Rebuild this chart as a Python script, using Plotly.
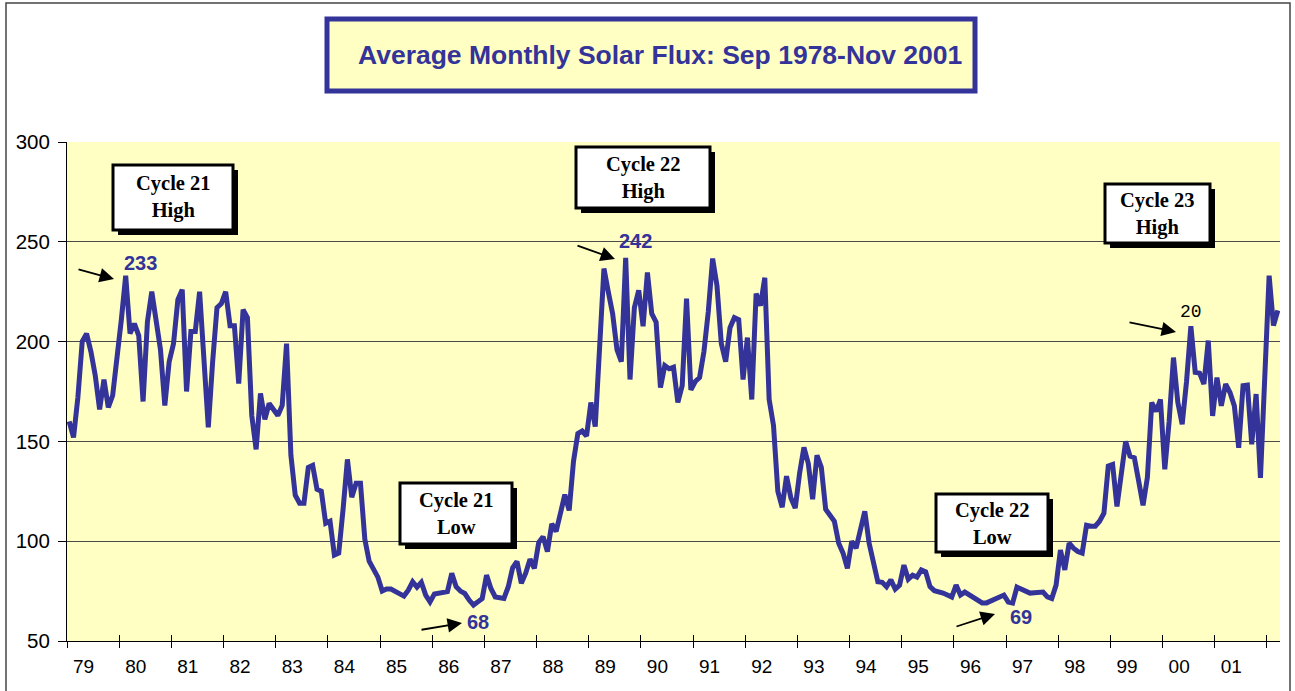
import plotly.graph_objects as go

# ---------------- data ----------------
start_month = "1978-09"          # first category (Sep 1978)
flux_1978 = [160, 152, 172, 200]
flux_1979 = [204, 195, 183, 166, 181, 167, 173, 190, 211, 233, 204, 209]
flux_1980 = [203, 170, 210, 225, 209, 196, 168, 190, 199, 221, 226, 175]
flux_1981 = [205, 205, 225, 191, 157, 190, 217, 219, 225, 208, 208, 179]
flux_1982 = [216, 212, 163, 146, 174, 161, 169, 166, 163, 168, 199, 143]
flux_1983 = [123, 119, 119, 137, 138, 126, 125, 109, 110, 93, 94, 116]
flux_1984 = [141, 122, 129, 129, 101, 90, 86, 82, 75, 76, 76, 75]
flux_1985 = [74, 72.5, 75.5, 79.7, 77, 79.4, 73, 69.6, 73.5, 73.8, 74, 74.7]
flux_1986 = [83.9, 77.2, 75, 73.8, 70.5, 68, 69.6, 71.3, 83, 76.3, 72.1, 71.5]
flux_1987 = [71.3, 77.2, 86.7, 89.8, 78.9, 84, 91, 86.4, 99.3, 102.3, 94.8, 108.7]
flux_1988 = [104.9, 114, 123.3, 115.4, 140, 153.9, 155.2, 152.7, 169.5, 157.4, 200, 236.6]
flux_1989 = [225, 214, 196, 190, 242, 181, 217, 225.7, 207.7, 234.6, 214, 209.7]
flux_1990 = [177, 188, 186.4, 187.2, 169.5, 178, 221.5, 175.8, 180, 182, 195, 215]
flux_1991 = [241.6, 228, 199, 190, 207, 212, 211, 181, 202, 171, 224, 218]
flux_1992 = [232, 171, 158, 125, 117, 132.6, 121.6, 116.6, 134, 147, 139, 121]
flux_1993 = [143, 137, 116, 113, 110, 99, 94, 86.4, 100, 96.5, 105, 115]
flux_1994 = [99, 89, 79.7, 79.4, 77.2, 80.6, 76, 78, 88, 81, 83, 82]
flux_1995 = [85.6, 84.7, 77.2, 75.2, 74.7, 74, 73, 72, 78, 73, 74.5, 73]
flux_1996 = [71.5, 70, 69.1, 69.1, 70, 71.5, 72, 73, 69.5, 69, 77, 76]
flux_1997 = [74.5, 74, 74.2, 74.5, 74.5, 72.1, 71.3, 78, 95.6, 85.6, 99, 96.5]
flux_1998 = [94.8, 94, 108, 107.5, 107.5, 110, 114, 137.6, 138.4, 117.4, 132.6, 150]
flux_1999 = [142.6, 141.8, 130, 118, 132, 169.5, 165, 171, 136, 160, 192, 169.5]
flux_2000 = [158.6, 180, 207.7, 184.6, 184.2, 178.7, 200.5, 162.8, 182, 167.8, 178.7, 174.5]
flux_2001 = [167.8, 146.8, 177.9, 178.2, 148.5, 173.7, 131.7, 180, 233, 208, 215.6]

year_labels = ["79", "80", "81", "82", "83", "84", "85", "86", "87", "88", "89",
               "90", "91", "92", "93", "94", "95", "96", "97", "98", "99", "00", "01"]
y_ticks = [50, 100, 150, 200, 250, 300]

title_text = "Average Monthly Solar Flux: Sep 1978-Nov 2001"
cycle_boxes = ["Cycle 21<br>High", "Cycle 22<br>High", "Cycle 21<br>Low",
               "Cycle 22<br>Low", "Cycle 23<br>High"]
value_labels = ["233", "242", "68", "69"]
truncated_label = "20"

# ---------------- build ----------------
flux = (flux_1978 + flux_1979 + flux_1980 + flux_1981 + flux_1982 + flux_1983 +
        flux_1984 + flux_1985 + flux_1986 + flux_1987 + flux_1988 + flux_1989 +
        flux_1990 + flux_1991 + flux_1992 + flux_1993 + flux_1994 + flux_1995 +
        flux_1996 + flux_1997 + flux_1998 + flux_1999 + flux_2000 + flux_2001)
n = len(flux)
idx = list(range(n))

W, H = 1295, 691
L, R, T, B = 67, 15, 142, 50
PW, PH = W - L - R, H - T - B


def px(x):
    return (x - L) / PW


def py(y):
    return (H - B - y) / PH


NAVY = "#333399"
BG = "#FFFFC4"

fig = go.Figure()
fig.add_trace(go.Scatter(
    x=idx, y=flux, mode="lines",
    line=dict(color=NAVY, width=5, shape="linear"),
    hoverinfo="y", showlegend=False,
))

boundaries = [-0.5 + 12 * i for i in range(24)]
label_pos = [3.3 + 12 * i for i in range(len(year_labels))]

axis_common = dict(range=[-0.5, n - 0.5], showgrid=False, zeroline=False, fixedrange=True)

fig.update_layout(
    width=W, height=H,
    margin=dict(l=L, r=R, t=T, b=B, pad=0),
    paper_bgcolor="white",
    plot_bgcolor=BG,
    font=dict(family="Liberation Sans, Arial, sans-serif", color="black"),
    xaxis=dict(**axis_common, tickmode="array", tickvals=boundaries,
               ticks="outside", ticklen=6, tickwidth=1, tickcolor="black",
               showticklabels=False, showline=True, linecolor="black", linewidth=1),
    xaxis2=dict(**axis_common, overlaying="x", anchor="y", side="bottom",
                tickmode="array", tickvals=label_pos, ticktext=year_labels,
                ticks="", showline=False, tickfont=dict(size=19, color="black"),
                ticklabelstandoff=12),
    xaxis3=dict(**axis_common, overlaying="x", anchor="y", side="bottom",
                tickmode="array", tickvals=boundaries, ticks="inside", ticklen=6,
                tickwidth=1, tickcolor="black", showticklabels=False, showline=False),
    yaxis=dict(range=[50, 300], tickmode="array", tickvals=y_ticks,
               ticks="outside", ticklen=8, tickcolor="black",
               showline=True, linecolor="black", linewidth=1,
               showgrid=True, gridcolor="#4a4a4a", gridwidth=1,
               zeroline=False, fixedrange=True,
               tickfont=dict(size=20.5, color="black"), ticklabelstandoff=4),
)

# invisible traces so the overlay axes are drawn
fig.add_trace(go.Scatter(x=[0], y=[None], xaxis="x2", showlegend=False, hoverinfo="skip"))
fig.add_trace(go.Scatter(x=[0], y=[None], xaxis="x3", showlegend=False, hoverinfo="skip"))

shapes = []
# outer chart border
shapes.append(dict(type="rect", xref="paper", yref="paper",
                   x0=px(6), x1=px(1290), y0=py(3), y1=py(720),
                   line=dict(color="#444444", width=1.5), fillcolor="rgba(0,0,0,0)",
                   layer="below"))
# title box
shapes.append(dict(type="rect", xref="paper", yref="paper",
                   x0=px(327), x1=px(975), y0=py(19), y1=py(91),
                   line=dict(color=NAVY, width=5), fillcolor=BG, layer="above"))

# cycle boxes (main rect in pixels: x0, y0, x1, y1)
box_px = [(113, 165, 233, 230), (576, 147, 710, 208), (400, 483, 512, 544),
          (936, 494, 1048, 552), (1105, 184, 1210, 243)]
for (x0, y0, x1, y1) in box_px:
    shapes.append(dict(type="rect", xref="paper", yref="paper",
                       x0=px(x0 + 5), x1=px(x1 + 5), y0=py(y0 + 5), y1=py(y1 + 5),
                       line=dict(color="black", width=0), fillcolor="black", layer="above"))
    shapes.append(dict(type="rect", xref="paper", yref="paper",
                       x0=px(x0), x1=px(x1), y0=py(y0), y1=py(y1),
                       line=dict(color="black", width=3), fillcolor="white", layer="above"))
fig.update_layout(shapes=shapes)

ann = []
ann.append(dict(xref="paper", yref="paper", x=px(660), y=py(55),
                text="<b>" + title_text + "</b>", showarrow=False,
                font=dict(family="Liberation Sans, Arial", size=26.5, color=NAVY),
                xanchor="center", yanchor="middle"))
for (x0, y0, x1, y1), txt in zip(box_px, cycle_boxes):
    ann.append(dict(xref="paper", yref="paper", x=px((x0 + x1) / 2), y=py((y0 + y1) / 2),
                    text="<b>" + txt + "</b>", showarrow=False,
                    font=dict(family="Liberation Serif, Times New Roman", size=20.5, color="black"),
                    xanchor="center", yanchor="middle"))

value_pos = [(140, 263), (635, 241), (478, 622), (1021, 617)]
for (x, y), txt in zip(value_pos, value_labels):
    ann.append(dict(xref="paper", yref="paper", x=px(x), y=py(y), text="<b>" + txt + "</b>",
                    showarrow=False, xanchor="center", yanchor="middle",
                    font=dict(family="Liberation Sans, Arial", size=20, color=NAVY)))
ann.append(dict(xref="paper", yref="paper", x=px(1191), y=py(312), text=truncated_label,
                showarrow=False, xanchor="center", yanchor="middle",
                font=dict(family="Liberation Mono, Courier New", size=18, color="black")))

# arrows: (tail x, tail y, tip x, tip y) in pixels
arrows = [(77, 269, 114, 279), (576, 245, 615, 259), (420, 630, 462, 623),
          (955, 627, 995, 614), (1128, 322, 1176, 332)]
for (tx, ty, hx, hy) in arrows:
    ann.append(dict(xref="paper", yref="paper", x=px(hx), y=py(hy), text="",
                    showarrow=True, axref="pixel", ayref="pixel",
                    ax=tx - hx, ay=ty - hy, arrowhead=2, arrowsize=1.6,
                    arrowwidth=1.8, arrowcolor="black", standoff=0))
fig.update_layout(annotations=ann)

fig.write_html(
    "out.html",
    config={"displayModeBar": False},
    post_script="document.body.style.margin='0';document.body.style.overflow='hidden';",
)
